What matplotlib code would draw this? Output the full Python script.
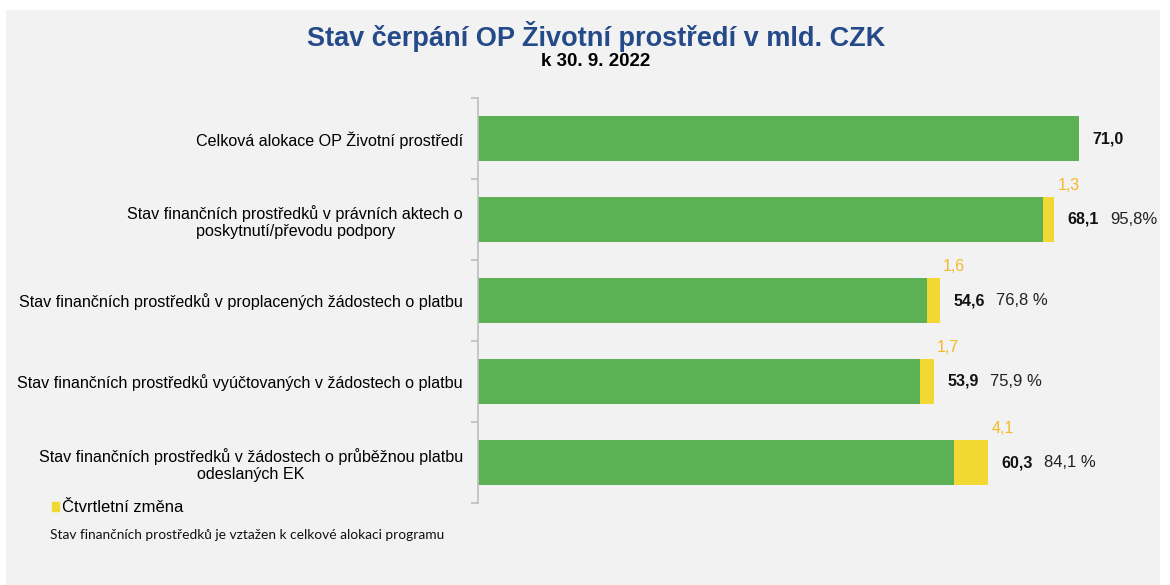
import matplotlib.pyplot as plt
from matplotlib.patches import Patch, Rectangle

# data
labels = [
    "Celková alokace OP Životní prostředí",
    "Stav finančních prostředků v právních aktech o\nposkytnutí/převodu podpory",
    "Stav finančních prostředků v proplacených žádostech o platbu",
    "Stav finančních prostředků vyúčtovaných v žádostech o platbu",
    "Stav finančních prostředků v žádostech o průběžnou platbu\nodeslaných EK",
]
totals = [71.0, 68.1, 54.6, 53.9, 60.3]
changes = [0.0, 1.3, 1.6, 1.7, 4.1]
value_text = ["71,0", "68,1", "54,6", "53,9", "60,3"]
change_text = ["", "1,3", "1,6", "1,7", "4,1"]
pct_text = ["", "95,8%", "76,8 %", "75,9 %", "84,1 %"]

green = "#5BB154"
yellow = "#F2D833"
orange = "#F5B82A"
blue = "#244A8A"
bg = "#F2F2F2"

plt.rcParams['font.family'] = ['Liberation Sans', 'DejaVu Sans']

fig = plt.figure(figsize=(11.7, 5.85), dpi=100, facecolor="white")
fig.patches.append(Rectangle((6 / 1170, 0), 1154 / 1170, 1 - 10 / 585,
                             transform=fig.transFigure, facecolor=bg,
                             edgecolor="none", zorder=-5))

ax = fig.add_axes([478 / 1170, 1 - 503 / 585, 682 / 1170, 405 / 585])
ax.set_facecolor("none")

ypos = list(range(len(labels)))
base = [t - c for t, c in zip(totals, changes)]
h = 0.565
ax.barh(ypos, base, height=h, color=green, zorder=2)
ax.barh(ypos, changes, left=base, height=h, color=yellow, zorder=2)

ax.set_xlim(0, 682 / (601 / 71.0))
ax.set_ylim(len(labels) - 0.5, -0.5)

for i in ypos:
    ax.annotate(value_text[i], xy=(totals[i], i), xytext=(13, 0),
                textcoords="offset pixels", ha="left", va="center",
                fontsize=11.5, fontweight="bold", color="#111111")
    if pct_text[i]:
        ax.annotate(pct_text[i], xy=(totals[i], i), xytext=(56, 0),
                    textcoords="offset pixels", ha="left", va="center",
                    fontsize=12, color="#222222")
    if change_text[i]:
        ax.annotate(change_text[i], xy=(totals[i], i - h / 2), xytext=(14, 11),
                    textcoords="offset pixels", ha="center", va="center",
                    fontsize=11.5, color=orange)

for s in ["top", "right", "bottom"]:
    ax.spines[s].set_visible(False)
ax.spines["left"].set_color("#BFBFBF")
ax.spines["left"].set_linewidth(1.2)
ax.set_xticks([])
ax.set_yticks(ypos)
ax.set_yticklabels(labels, fontsize=11.6, multialignment="center")
ax.tick_params(axis="y", which="major", length=0, pad=10.8)
ax.set_yticks([i - 0.5 for i in range(len(labels) + 1)], minor=True)
ax.tick_params(axis="y", which="minor", length=5, color="#BFBFBF", width=1.2)

fig.text(596 / 1170, 1 - 36 / 585, "Stav čerpání OP Životní prostředí v mld. CZK",
         ha="center", va="center", fontsize=19.5, fontweight="bold", color=blue)
fig.text(596 / 1170, 1 - 62 / 585, "k 30. 9. 2022",
         ha="center", va="center", fontsize=13.5, fontweight="bold", color="black")

fig.legend(handles=[Patch(color=yellow, label="Čtvrtletní změna")],
           loc="center left", bbox_to_anchor=(37 / 1170, 1 - 508 / 585),
           frameon=False, fontsize=12, handlelength=0.4, handleheight=0.4,
           handletextpad=0.2)
fig.text(50 / 1170, 1 - 535 / 585,
         "Stav finančních prostředků je vztažen k celkové alokaci programu",
         ha="left", va="center", fontsize=9.9, family=["Lato", "DejaVu Sans"],
         color="#111111")

fig.savefig("out.png", dpi=100, facecolor=fig.get_facecolor())
